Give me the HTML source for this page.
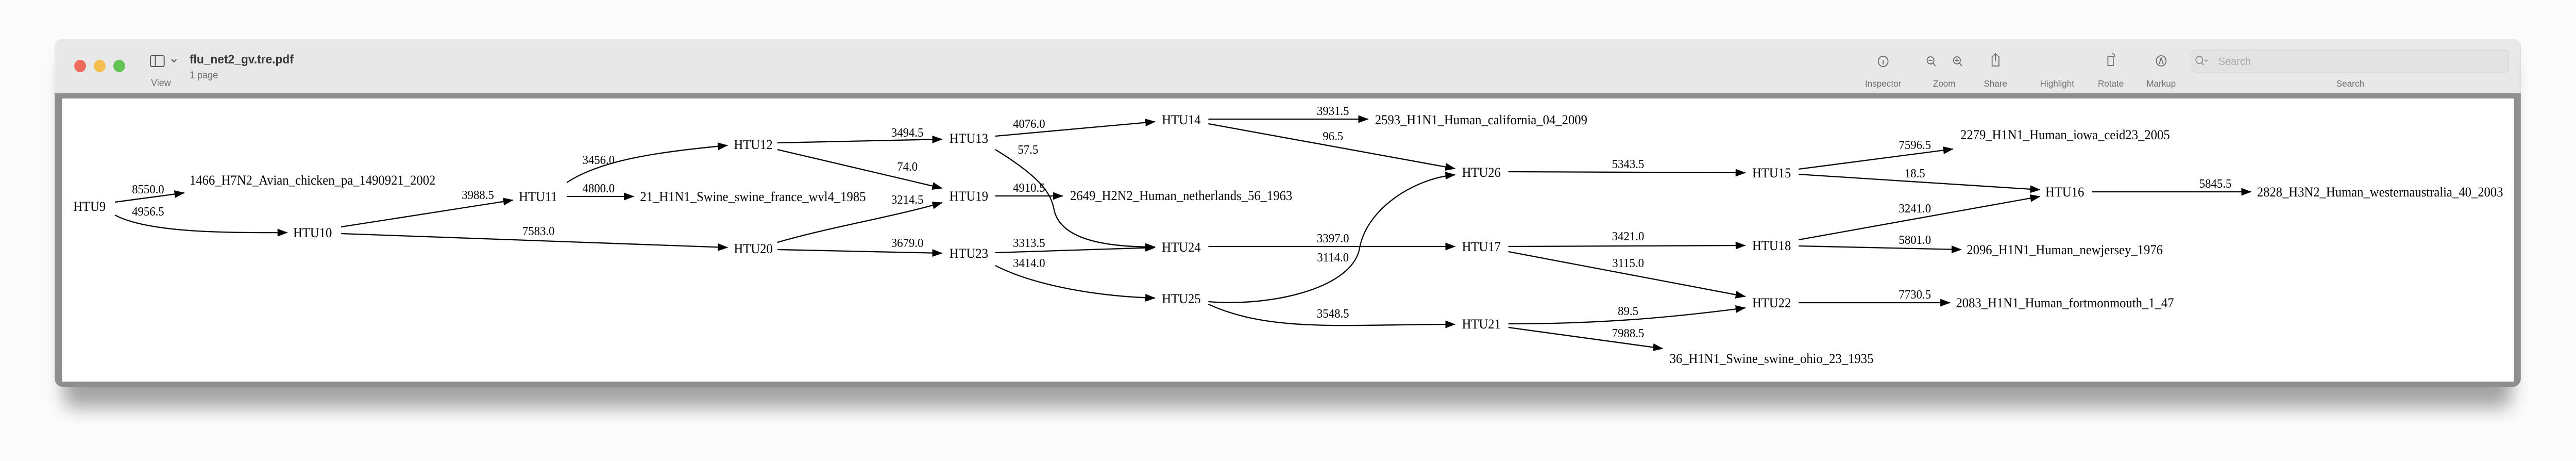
<!DOCTYPE html>
<html><head><meta charset="utf-8"><style>
html,body{margin:0;padding:0;background:#fafafa;width:100%;height:100%;overflow:hidden;}
svg{display:block;width:100vw;height:100vh;}
</style></head><body>
<svg viewBox="0 0 5272 894" preserveAspectRatio="none" xmlns="http://www.w3.org/2000/svg">
<defs>
<marker id="a" markerUnits="userSpaceOnUse" markerWidth="22" markerHeight="16" refX="20" refY="7.5" orient="auto"><path d="M0,0 L21,7.5 L0,15 z" fill="#000"/></marker>
<filter id="sh" x="-5%" y="-30%" width="110%" height="170%"><feGaussianBlur stdDeviation="18"/></filter>
</defs>
<rect width="5272" height="894" fill="#fbfbfb"/>
<rect x="130" y="110" width="5010" height="680" rx="20" fill="#000" opacity="0.35" filter="url(#sh)"/>
<rect x="112" y="76" width="5047" height="674" rx="16" fill="#8e8e8e"/>
<path d="M112,180 L112,92 Q112,76 128,76 L5143,76 Q5159,76 5159,92 L5159,180 z" fill="#e8e8e8"/>
<line x1="112" y1="180.5" x2="5159" y2="180.5" stroke="#d0d0d0" stroke-width="1"/>
<rect x="127" y="191" width="5018" height="549" fill="#fff"/>
<circle cx="164" cy="128" r="12" fill="#ec6a5e"/>
<circle cx="204" cy="128" r="12" fill="#f4bf4f"/>
<circle cx="244" cy="128" r="12" fill="#61c554"/>
<rect x="308" y="108" width="28" height="21" rx="3" fill="none" stroke="#555" stroke-width="2"/>
<line x1="318" y1="108" x2="318" y2="129" stroke="#555" stroke-width="2"/>
<path d="M351,115 L356,120 L361,115" fill="none" stroke="#555" stroke-width="2"/>
<g font-family="'Liberation Sans',sans-serif">
<text x="388" y="123" font-size="24" font-weight="bold" fill="#3a3a3a">flu_net2_gv.tre.pdf</text>
<text x="388" y="152" font-size="19" fill="#707070">1 page</text>
<text x="309" y="167" font-size="19" fill="#707070">View</text>
<g font-size="18" fill="#6e6e6e" text-anchor="middle">
<text x="3854" y="168">Inspector</text>
<text x="3979" y="168">Zoom</text>
<text x="4084" y="168">Share</text>
<text x="4210" y="168">Highlight</text>
<text x="4320" y="168">Rotate</text>
<text x="4423" y="168">Markup</text>
<text x="4810" y="168">Search</text>
</g>
</g>
<g fill="none" stroke="#666" stroke-width="1.8">
<circle cx="3854" cy="119" r="10"/><line x1="3854" y1="116" x2="3854" y2="125"/>
<circle cx="3951" cy="117" r="7"/><line x1="3956" y1="122" x2="3961" y2="128"/><line x1="3947" y1="117" x2="3955" y2="117"/>
<circle cx="4005" cy="117" r="7"/><line x1="4010" y1="122" x2="4015" y2="128"/><line x1="4001" y1="117" x2="4009" y2="117"/><line x1="4005" y1="113" x2="4005" y2="121"/>
<path d="M4079,110 L4077,110 L4077,128 L4091,128 L4091,110 L4089,110 M4084,104 L4084,118 M4080,108 L4084,104 L4088,108"/>
<rect x="4314" y="110" width="11" height="17"/><path d="M4322,104 Q4328,104 4328,110"/>
<circle cx="4423" cy="118" r="10"/><path d="M4419,124 L4423,112 L4427,124"/>
</g>
<rect x="4486" y="97" width="648" height="43" rx="7" fill="#e3e3e3" stroke="#d6d6d6" stroke-width="1.5"/>
<circle cx="4501" cy="116" r="7" fill="none" stroke="#888" stroke-width="1.8"/><line x1="4506" y1="121" x2="4510" y2="126" stroke="#888" stroke-width="1.8"/>
<path d="M4512,116 L4515,119 L4518,116" fill="none" stroke="#888" stroke-width="1.5"/>
<text x="4540" y="126" font-family="'Liberation Sans',sans-serif" font-size="21" fill="#aaa">Search</text>

<g fill="none" stroke="#000" stroke-width="2.3" marker-end="url(#a)">
<path d="M235,392 L377,374"/>
<path d="M235,417 C300,450 450,452 588,451"/>
<path d="M698,440 L1050,388"/>
<path d="M1160,354 C1230,310 1350,294 1489,282"/>
<path d="M1160,381 L1297,381"/>
<path d="M698,453 L1489,480"/>
<path d="M1591,277 L1928,270"/>
<path d="M1591,290 L1928,365"/>
<path d="M1591,470 C1700,440 1830,420 1928,393"/>
<path d="M1591,484 L1928,491"/>
<path d="M2037,264 L2364,236"/>
<path d="M2037,290 C2140,350 2152,380 2158,410 C2175,470 2280,479 2364,479"/>
<path d="M2037,380 L2175,380"/>
<path d="M2037,490 L2364,480"/>
<path d="M2037,515 C2120,555 2250,575 2364,578"/>
<path d="M2473,231 L2800,231"/>
<path d="M2473,240 L2978,327"/>
<path d="M2473,478 L2978,478"/>
<path d="M2473,585 C2600,595 2770,560 2783,479 C2800,400 2900,345 2978,339"/>
<path d="M2473,590 C2600,645 2750,629 2978,629"/>
<path d="M3087,333 L3572,335"/>
<path d="M3087,478 L3572,476"/>
<path d="M3087,488 L3572,575"/>
<path d="M3087,628 C3300,628 3450,612 3572,597"/>
<path d="M3087,635 L3403,676"/>
<path d="M3681,328 L3997,289"/>
<path d="M3681,338 L4175,368"/>
<path d="M3681,465 L4175,381"/>
<path d="M3681,477 L4014,484"/>
<path d="M3681,587 L3991,587"/>
<path d="M4282,372 L4607,372"/>
</g>

<g font-family="'Liberation Serif','Times New Roman',serif" font-size="26" fill="#000">
<text x="150" y="409">HTU9</text>
<text x="388" y="358">1466_H7N2_Avian_chicken_pa_1490921_2002</text>
<text x="600" y="460">HTU10</text>
<text x="1062" y="390">HTU11</text>
<text x="1310" y="390">21_H1N1_Swine_swine_france_wvl4_1985</text>
<text x="1502" y="289">HTU12</text>
<text x="1502" y="491">HTU20</text>
<text x="1943" y="277">HTU13</text>
<text x="1943" y="389">HTU19</text>
<text x="1943" y="500">HTU23</text>
<text x="2190" y="388">2649_H2N2_Human_netherlands_56_1963</text>
<text x="2378" y="241">HTU14</text>
<text x="2378" y="488">HTU24</text>
<text x="2378" y="588">HTU25</text>
<text x="2814" y="241">2593_H1N1_Human_california_04_2009</text>
<text x="2992" y="343">HTU26</text>
<text x="2992" y="487">HTU17</text>
<text x="2992" y="637">HTU21</text>
<text x="3417" y="704">36_H1N1_Swine_swine_ohio_23_1935</text>
<text x="3586" y="344">HTU15</text>
<text x="3586" y="485">HTU18</text>
<text x="3586" y="596">HTU22</text>
<text x="4012" y="270">2279_H1N1_Human_iowa_ceid23_2005</text>
<text x="4186" y="381">HTU16</text>
<text x="4025" y="493">2096_H1N1_Human_newjersey_1976</text>
<text x="4003" y="596">2083_H1N1_Human_fortmonmouth_1_47</text>
<text x="4619" y="381">2828_H3N2_Human_westernaustralia_40_2003</text>
</g>
<g font-family="'Liberation Serif','Times New Roman',serif" font-size="24" fill="#000" text-anchor="middle">
<text x="303" y="375">8550.0</text>
<text x="303" y="418">4956.5</text>
<text x="978" y="386">3988.5</text>
<text x="1225" y="373">4800.0</text>
<text x="1225" y="318">3456.0</text>
<text x="1102" y="456">7583.0</text>
<text x="1857" y="265">3494.5</text>
<text x="1857" y="331">74.0</text>
<text x="1857" y="395">3214.5</text>
<text x="1857" y="479">3679.0</text>
<text x="2106" y="248">4076.0</text>
<text x="2104" y="298">57.5</text>
<text x="2106" y="372">4910.5</text>
<text x="2106" y="479">3313.5</text>
<text x="2106" y="518">3414.0</text>
<text x="2728" y="223">3931.5</text>
<text x="2728" y="272">96.5</text>
<text x="2728" y="470">3397.0</text>
<text x="2728" y="507">3114.0</text>
<text x="2728" y="616">3548.5</text>
<text x="3332" y="326">5343.5</text>
<text x="3332" y="466">3421.0</text>
<text x="3332" y="518">3115.0</text>
<text x="3332" y="611">89.5</text>
<text x="3332" y="654">7988.5</text>
<text x="3919" y="289">7596.5</text>
<text x="3919" y="344">18.5</text>
<text x="3919" y="412">3241.0</text>
<text x="3919" y="473">5801.0</text>
<text x="3919" y="579">7730.5</text>
<text x="4534" y="364">5845.5</text>
</g>
</svg>
</body></html>
